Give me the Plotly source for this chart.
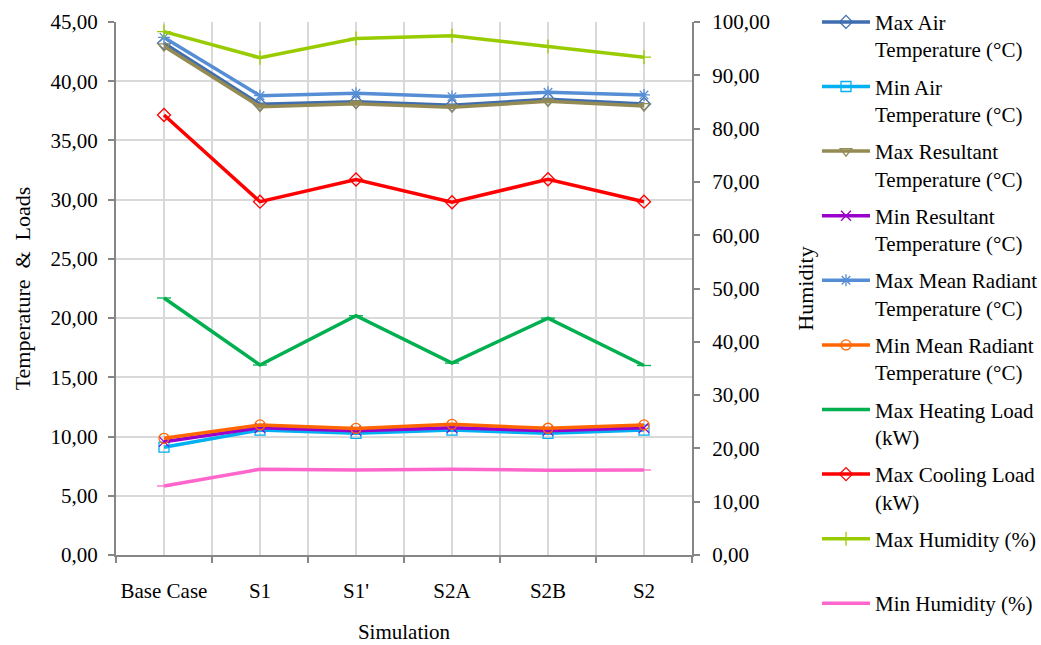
import plotly.graph_objects as go

# Simulation cases
simulations = ["Base Case", "S1", "S1'", "S2A", "S2B", "S2"]

# Temperatures (°C) and loads (kW) - left axis
max_air_temp = [43.2, 38.05, 38.27, 37.97, 38.47, 38.08]
min_air_temp = [9.1, 10.55, 10.27, 10.55, 10.27, 10.55]
max_resultant_temp = [42.95, 37.85, 38.1, 37.8, 38.3, 37.9]
min_resultant_temp = [9.57, 10.75, 10.5, 10.75, 10.5, 10.75]
max_mrt = [43.7, 38.78, 38.98, 38.7, 39.07, 38.84]
min_mrt = [9.85, 10.98, 10.69, 11.03, 10.7, 10.98]
max_heating_load = [21.7, 16.04, 20.2, 16.2, 20.0, 16.0]
max_cooling_load = [37.15, 29.83, 31.7, 29.78, 31.72, 29.83]

# Humidity (%) - right axis
max_humidity = [98.2, 93.3, 96.9, 97.4, 95.4, 93.4]
min_humidity = [12.95, 16.08, 15.95, 16.08, 15.9, 15.95]

x_idx = list(range(len(simulations)))

series_left = [
    ("Max Air<br>Temperature (°C)", max_air_temp, "#3E6DB0", "diamond-open"),
    ("Min Air<br>Temperature (°C)", min_air_temp, "#00B0F0", "square-open"),
    ("Max Resultant<br>Temperature (°C)", max_resultant_temp, "#948A54", "triangle-down-open"),
    ("Min Resultant<br>Temperature (°C)", min_resultant_temp, "#9900CC", "x-thin-open"),
    ("Max Mean Radiant<br>Temperature (°C)", max_mrt, "#558ED5", "asterisk-open"),
    ("Min Mean Radiant<br>Temperature (°C)", min_mrt, "#FF6600", "circle-open"),
    ("Max Heating Load<br>(kW)", max_heating_load, "#00B050", "line-ew-open"),
    ("Max Cooling Load<br>(kW)", max_cooling_load, "#FF0000", "diamond-open"),
]
series_right = [
    ("Max Humidity (%)<br> ", max_humidity, "#99CC00", "cross-thin-open"),
    ("Min Humidity (%)", min_humidity, "#FF66CC", "line-ew-open"),
]

fig = go.Figure()
for name, vals, color, sym in series_left:
    fig.add_trace(go.Scatter(
        x=x_idx, y=vals, name=name, mode="lines+markers", yaxis="y",
        line=dict(color=color, width=3.5),
        marker=dict(symbol=sym, size=10, color=color, line=dict(color=color, width=1.3)),
        legendgroup=name,
    ))
for name, vals, color, sym in series_right:
    fig.add_trace(go.Scatter(
        x=x_idx, y=vals, name=name, mode="lines+markers", yaxis="y2",
        line=dict(color=color, width=3.5),
        marker=dict(symbol=sym, size=10, color=color, line=dict(color=color, width=1.3)),
        legendgroup=name,
    ))

font_family = "Liberation Serif, Times New Roman, serif"
axis_color = "#868686"
grid_color = "#D9D9D9"
fs = 21

fig.update_layout(
    width=1041, height=645,
    margin=dict(l=116, r=349, t=22, b=90, autoexpand=False),
    paper_bgcolor="white", plot_bgcolor="white",
    font=dict(family=font_family, size=fs, color="black"),
    separators=",.",
    showlegend=True,
    legend=dict(
        x=1.217, y=1.038, xanchor="left", yanchor="top",
        font=dict(family=font_family, size=fs, color="black"),
        valign="top", tracegroupgap=7, itemwidth=48,
        bgcolor="rgba(0,0,0,0)", maxheight=1.0,
    ),
    xaxis=dict(
        range=[-0.5, 5.5],
        tickmode="array", tickvals=x_idx, ticktext=simulations,
        ticks="", showgrid=True, gridcolor=grid_color, gridwidth=1.5,
        showline=True, linecolor=axis_color, linewidth=2,
        zeroline=False, ticklabelstandoff=16,
        minor=dict(tickmode="array", tickvals=[i - 0.5 for i in range(len(simulations) + 1)],
                   showgrid=True, gridcolor=grid_color, gridwidth=1.5,
                   ticks="outside", ticklen=6, tickcolor=axis_color, tickwidth=1.5),
        title=dict(text="Simulation", standoff=22, font=dict(size=fs)),
        tickfont=dict(size=fs),
    ),
    yaxis=dict(
        range=[0, 45], dtick=5, tick0=0, tickformat=".2f",
        showgrid=True, gridcolor=grid_color, gridwidth=1.5,
        showline=True, linecolor=axis_color, linewidth=2,
        ticks="outside", ticklen=6, tickcolor=axis_color, tickwidth=1.5,
        zeroline=False, ticklabelstandoff=6,
        title=dict(text="Temperature  &  Loads", standoff=14, font=dict(size=22)),
        tickfont=dict(size=fs),
    ),
    yaxis2=dict(
        range=[0, 100], dtick=10, tick0=0, tickformat=".2f",
        overlaying="y", side="right", showgrid=False,
        showline=True, linecolor=axis_color, linewidth=2,
        ticks="outside", ticklen=6, tickcolor=axis_color, tickwidth=1.5,
        zeroline=False, ticklabelstandoff=8,
        title=dict(text="Humidity", standoff=29, font=dict(size=22)),
        tickfont=dict(size=fs),
    ),
)

fig.write_html("out.html")
